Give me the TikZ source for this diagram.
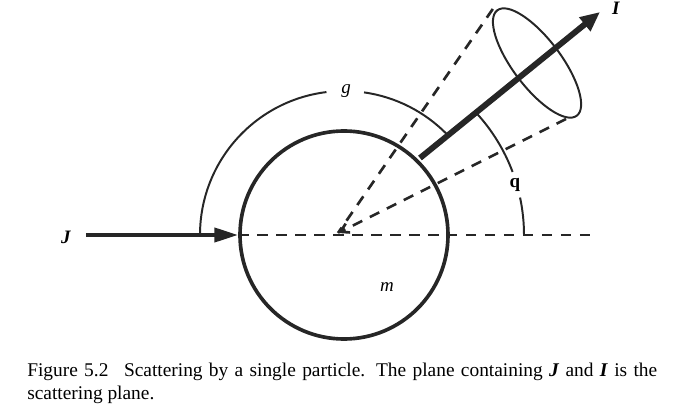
\documentclass[tikz,border=0pt]{standalone}
\usepackage{fontspec}
\setmainfont{Liberation Serif}
\usetikzlibrary{arrows.meta}

\begin{document}
\begin{tikzpicture}[
    thinline/.style={line width=1.4pt, black!85},
    dashline/.style={line width=1.9pt, black!85, dash pattern=on 7.5pt off 6pt},
    sym/.style={font=\fontsize{13.5}{14}\selectfont, inner sep=1pt}
]
    % Frame of the figure
    \useasboundingbox (-8.6,-4.225) rectangle (8.4,5.875);
    \coordinate (O) at (0,0);

    % The particle
    \node[draw, circle, black!85, line width=2.6pt, minimum size=5.2cm, inner sep=0] (ball) at (O) {};
    \node[sym] (mlab) at (1.075,-1.3) {\textit{m}};

    % Incident direction, dashed on through the particle
    \coordinate (Jstart) at (-6.45,0);
    \coordinate (axisend) at (6.175,0);
    \draw[dashline] (ball.west) -- (axisend);
    \draw[black!85, line width=2.8pt, -{Triangle[length=17pt, width=10pt]}] (Jstart) -- (ball.west);
    \node[sym] (Jlab) at (-6.95,-0.05) {\textbf{\textit{J}}};

    % Cone towards the detector
    \coordinate (apex) at (-0.15,0.05);
    \coordinate (coneup) at (3.72,5.65);
    \coordinate (conelow) at (5.55,2.9);
    \coordinate (cap) at (4.825,4.3);
    \draw[dashline] (coneup) -- (apex);
    \draw[dashline, -{Straight Barb[length=6pt, width=7pt]}] (conelow) -- (apex);
    \draw[thinline, rotate around={-53:(cap)}] (cap) ellipse (1.65 and 0.6);

    % Angle arcs
    \draw[thinline] (180:3.6) arc[start angle=180, end angle=97, radius=3.6];
    \draw[thinline] (82:3.6) arc[start angle=82, end angle=44, radius=3.6];
    \node[sym] (glab) at (89.2:3.6) {\textit{g}};
    \draw[thinline] (0:4.5) arc[start angle=0, end angle=12, radius=4.5];
    \draw[thinline] (20.5:4.5) arc[start angle=20.5, end angle=42.8, radius=4.5];
    \node[sym] (qlab) at (16.3:4.45) {\textbf{q}};

    % Scattered direction
    \coordinate (Istart) at (1.9,1.925);
    \coordinate (Iend) at (6.4,5.575);
    \draw[black!85, line width=4.2pt, -{Triangle[length=14pt, width=12pt]}] (Istart) -- (Iend);
    \node[sym] (Ilab) at (6.8,5.68) {\textbf{\textit{I}}};

    % Caption
    \node[anchor=base west, text width=15.75cm, align=justify, inner sep=0,
          font=\fontsize{13.8}{16.5}\selectfont] (caption) at (-7.925,-3.525)
        {\hyphenpenalty=10000 Figure 5.2\hspace{0.8em}Scattering by a single particle. The plane containing \textbf{\textit{J}} and \textbf{\textit{I}} is the scattering plane.};
\end{tikzpicture}
\end{document}
